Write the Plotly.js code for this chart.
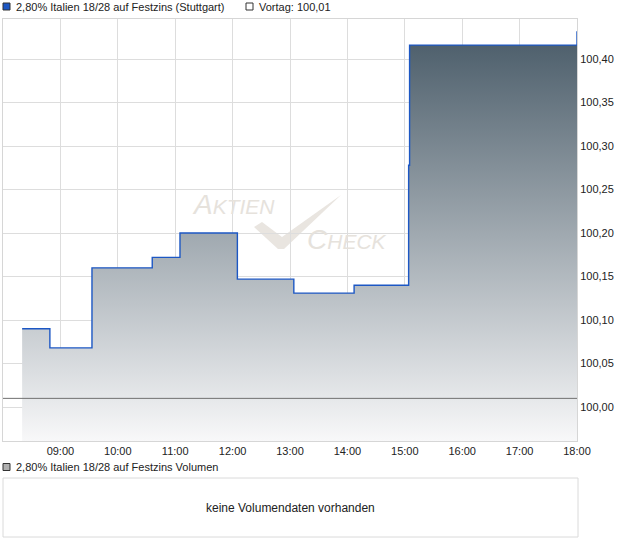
<!DOCTYPE html>
<html>
<head>
<meta charset="utf-8">
<script src="https://cdn.plot.ly/plotly-3.0.1.min.js"></script>
<style>html,body{margin:0;padding:0;background:#fff;}#chart{width:620px;height:546px;}</style>
</head>
<body>
<div id="chart"></div>
<script>
// ---- data ----
const day = '2024-05-14 ';
const times = ['08:20','08:49','09:33','10:36','11:05','12:05','13:04','14:07','15:04','15:05','18:00'];
const prices = [100.09,100.068,100.16,100.172,100.20,100.147,100.131,100.14,100.278,100.416,100.432];
const prevClose = 100.01;
const sessionStart = '08:00';
const sessionEnd = '18:00';
const tickTimes = ['09:00','10:00','11:00','12:00','13:00','14:00','15:00','16:00','17:00','18:00'];
const seriesName = '2,80% Italien 18/28 auf Festzins (Stuttgart)';
const prevLabel = 'Vortag: 100,01';
const volumeName = '2,80% Italien 18/28 auf Festzins Volumen';
const noVolumeText = 'keine Volumendaten vorhanden';

// ---- geometry helpers ----
const W = 620, H = 546, L = 3, R = 43, T = 19, B = 9;
const px = x => (x - L) / (W - L - R);
const py = y => (H - B - y) / (H - T - B);
const FONT = 'Liberation Sans, Arial, sans-serif';

const x = times.map(t => day + t);

const priceTrace = {
  x: x, y: prices, type: 'scatter', mode: 'lines',
  line: {shape: 'hv', color: '#1c57c4', width: 1.4},
  fill: 'tozeroy',
  fillgradient: {type: 'vertical', start: 99.961, stop: 100.43,
    colorscale: [[0, '#f8f8f9'], [1, '#4a5c69']]},
  hoverinfo: 'skip'
};
const prevTrace = {
  x: [day + sessionStart, day + sessionEnd], y: [prevClose, prevClose],
  type: 'scatter', mode: 'lines', line: {color: '#707070', width: 1}, hoverinfo: 'skip'
};

const check = 'M' + px(254) + ',' + py(227) + ' L' + px(262) + ',' + py(222) +
  ' L' + px(282) + ',' + py(237) + ' L' + px(341) + ',' + py(195) +
  ' L' + px(284) + ',' + py(249) + ' L' + px(278) + ',' + py(249) + ' Z';

const layout = {
  width: W, height: H,
  margin: {l: L, r: R, t: T, b: B},
  paper_bgcolor: '#ffffff', plot_bgcolor: '#ffffff',
  separators: ',.',
  showlegend: false,
  font: {family: FONT, size: 11, color: '#222'},
  xaxis: {
    type: 'date', range: [day + sessionStart, day + sessionEnd],
    tickvals: tickTimes.map(t => day + t), tickformat: '%H:%M',
    showgrid: true, gridcolor: '#dddddd', gridwidth: 1,
    showline: true, mirror: true, linecolor: '#d6d6d6', linewidth: 1,
    zeroline: false, ticks: '', tickfont: {family: FONT, size: 11, color: '#222'},
    fixedrange: true
  },
  yaxis: {
    side: 'right', range: [99.961, 100.446], tick0: 100, dtick: 0.05, tickformat: '.2f',
    showgrid: true, gridcolor: '#dddddd', gridwidth: 1,
    showline: true, mirror: true, linecolor: '#d6d6d6', linewidth: 1,
    zeroline: false, ticks: '', tickfont: {family: FONT, size: 11, color: '#222'},
    domain: [py(441), 1], fixedrange: true
  },
  shapes: [
    {type: 'path', xref: 'paper', yref: 'paper', path: check, fillcolor: '#e9e5e0', line: {width: 0}, layer: 'below'},
    {type: 'rect', xref: 'paper', yref: 'paper', x0: px(3), x1: px(10), y0: py(3), y1: py(10),
      fillcolor: '#1c57c4', line: {color: '#333', width: 1}},
    {type: 'rect', xref: 'paper', yref: 'paper', x0: px(246), x1: px(253), y0: py(3), y1: py(10),
      fillcolor: '#ffffff', line: {color: '#333', width: 1}},
    {type: 'rect', xref: 'paper', yref: 'paper', x0: px(3), x1: px(10), y0: py(463.5), y1: py(470.5),
      fillcolor: '#b0b0b0', line: {color: '#333', width: 1}},
    {type: 'rect', xref: 'paper', yref: 'paper', x0: px(3), x1: px(578), y0: py(478), y1: py(537),
      fillcolor: 'rgba(0,0,0,0)', line: {color: '#dadada', width: 1}}
  ],
  annotations: [
    {xref: 'paper', yref: 'paper', x: px(14), y: py(7), xanchor: 'left', yanchor: 'middle',
      text: seriesName, showarrow: false, font: {family: FONT, size: 11, color: '#222'}},
    {xref: 'paper', yref: 'paper', x: px(257), y: py(7), xanchor: 'left', yanchor: 'middle',
      text: prevLabel, showarrow: false, font: {family: FONT, size: 11, color: '#222'}},
    {xref: 'paper', yref: 'paper', x: px(14), y: py(467), xanchor: 'left', yanchor: 'middle',
      text: volumeName, showarrow: false, font: {family: FONT, size: 11, color: '#222'}},
    {xref: 'paper', yref: 'paper', x: px(290.5), y: py(507.5), xanchor: 'center', yanchor: 'middle',
      text: noVolumeText, showarrow: false, font: {family: FONT, size: 12, color: '#222'}},
    {xref: 'paper', yref: 'paper', x: px(190), y: py(205), xanchor: 'left', yanchor: 'middle',
      text: '<i><span style="font-size:28px">A</span>KTIEN</i>', showarrow: false,
      font: {family: FONT, size: 21, color: '#e6e2dc'}},
    {xref: 'paper', yref: 'paper', x: px(305), y: py(239), xanchor: 'left', yanchor: 'middle',
      text: '<i><span style="font-size:28px">C</span>HECK</i>', showarrow: false,
      font: {family: FONT, size: 21, color: '#e6e2dc'}}
  ]
};

Plotly.newPlot('chart', [priceTrace, prevTrace], layout, {displayModeBar: false, staticPlot: true});
</script>
</body>
</html>
